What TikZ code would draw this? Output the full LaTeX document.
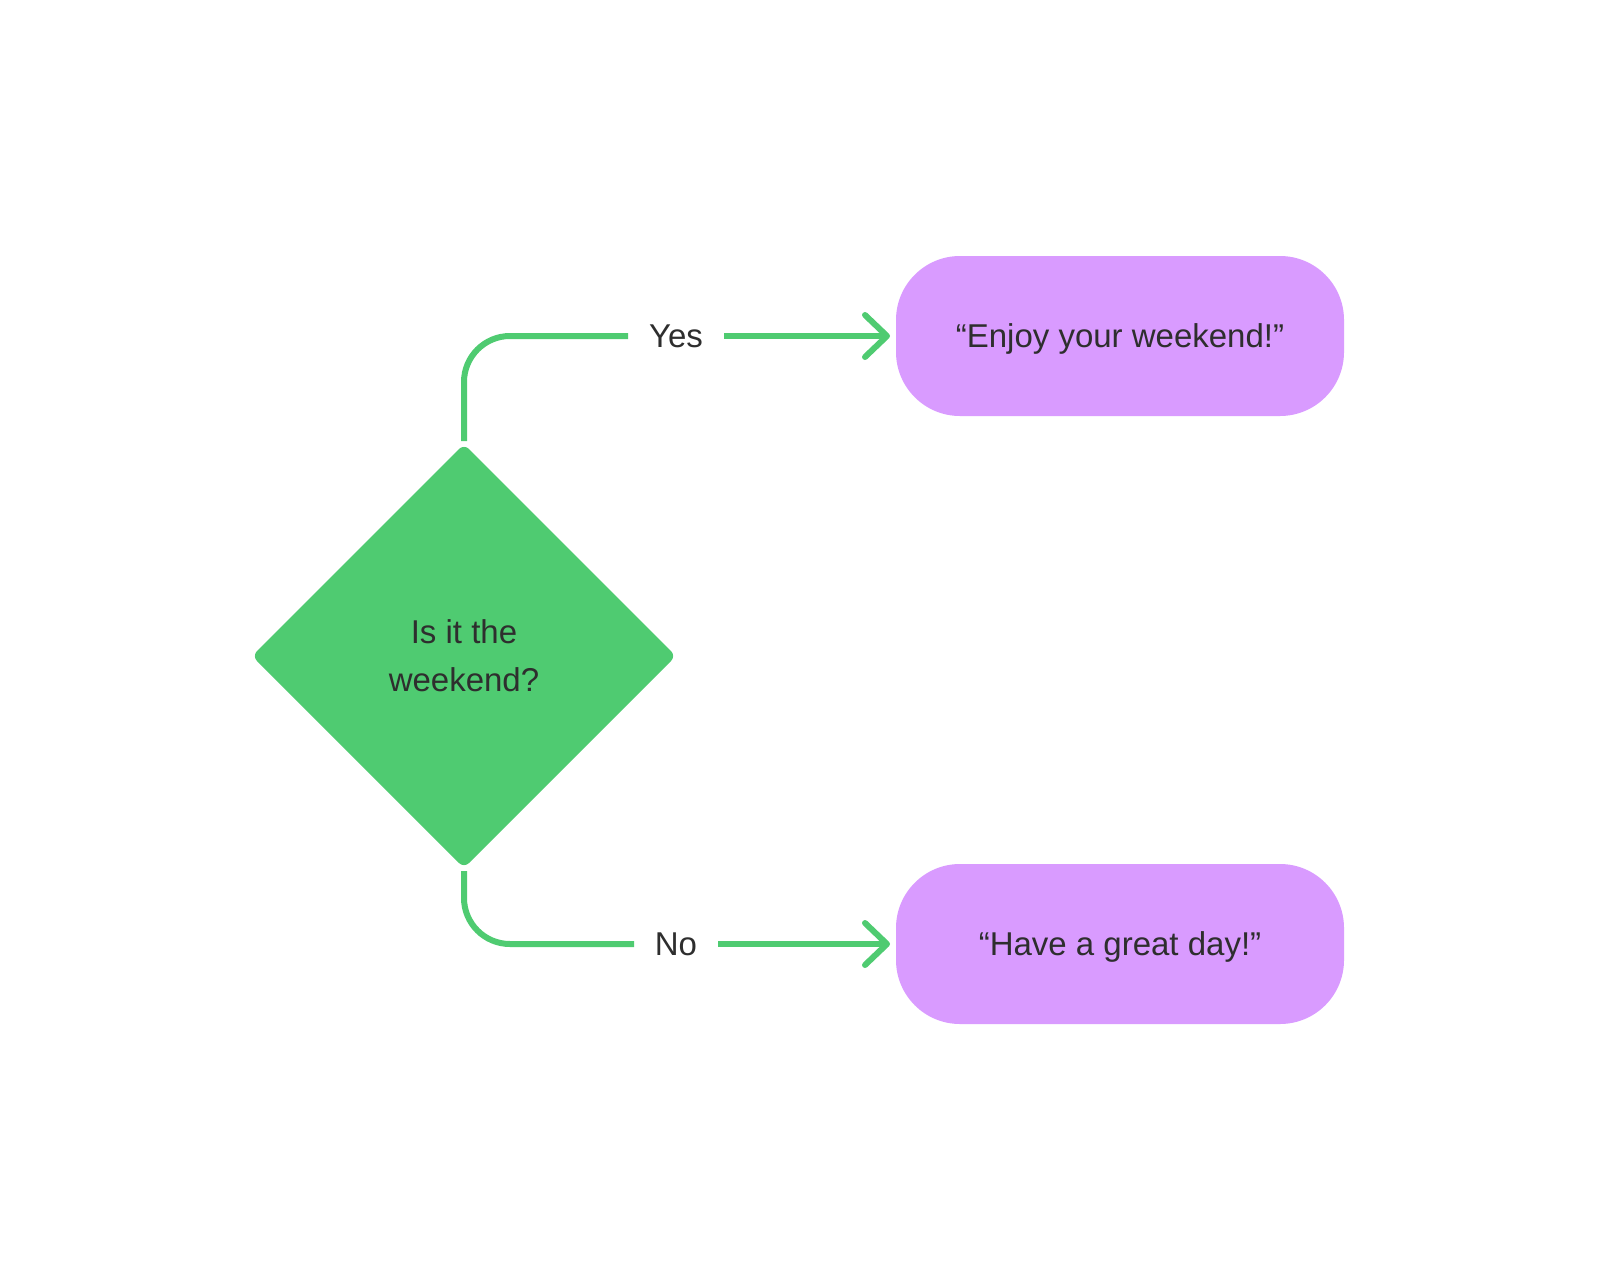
\documentclass[tikz,border=0pt]{standalone}
\usepackage{fontspec}
\setmainfont{Liberation Sans}
\usetikzlibrary{shapes.geometric,arrows.meta}
\definecolor{gr}{HTML}{4FCB71}
\definecolor{pu}{HTML}{D99BFF}
\definecolor{tx}{HTML}{2E2E2E}
\tikzset{
  decision/.style={diamond, fill=gr, inner sep=0pt, outer sep=0pt, minimum width=424pt, minimum height=424pt, rounded corners=7pt, align=center, text=tx, font=\fontsize{33}{48}\selectfont},
  msg/.style={rectangle, fill=pu, rounded corners=64pt, minimum width=448pt, minimum height=160pt, inner sep=0pt, outer sep=0pt, text=tx, text height=24pt, text depth=1pt, font=\fontsize{33}{40}\selectfont},
  conn/.style={draw=gr, line width=6pt},
  elbowline/.style={conn, rounded corners=46pt, shorten <=3pt},
  arrline/.style={conn, shorten >=6pt, -{Straight Barb[length=22pt,width=42pt,line cap=round,line join=round]}},
  lbl/.style={inner xsep=20pt, inner ysep=6pt, outer sep=0pt, text=tx, font=\fontsize{33}{40}\selectfont}
}
\begin{document}
\begin{tikzpicture}[x=1pt,y=-1pt]
\useasboundingbox (0,0) rectangle (1600,1280);
\node[decision] (d) at (464,656) {Is it the\\weekend?};
\node[msg] (y) at (1120,336) {“Enjoy your weekend!”};
\node[msg] (n) at (1120,944) {“Have a great day!”};
\node[lbl, minimum width=96pt] (ly) at (676,336) {Yes};
\node[lbl, minimum width=84pt] (ln) at (676,944) {No};
\draw[elbowline] (d.north) |- (ly.west);
\draw[arrline] (ly.east) -- (y.west);
\draw[elbowline] (d.south) |- (ln.west);
\draw[arrline] (ln.east) -- (n.west);
\end{tikzpicture}
\end{document}
